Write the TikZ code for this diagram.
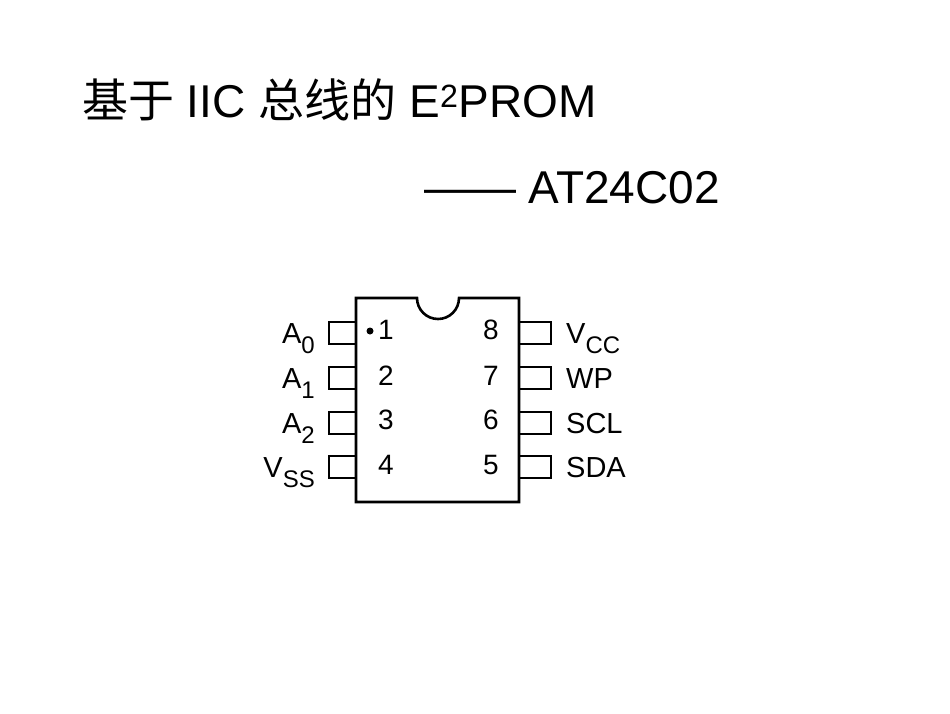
\documentclass[tikz,border=0pt]{standalone}
\usepackage{fontspec}
\setmainfont{Liberation Sans}
\newfontfamily\cjk{Noto Sans CJK SC}
\newcommand{\lowsub}[1]{\raisebox{-0.35em}{\fontsize{24}{24}\selectfont #1}}
\begin{document}
\begin{tikzpicture}[x=1pt,y=-1pt,
  pin/.style={draw,line width=1.5pt},
  num/.style={font=\fontsize{28}{28}\selectfont},
  lbl/.style={font=\fontsize{29}{29}\selectfont}]
\useasboundingbox (0,0) rectangle (950,713);
\node[anchor=base west,inner sep=0,font=\fontsize{46}{46}\selectfont] (title) at (82,117) {{\cjk 基于} IIC {\cjk 总线的} E\textsuperscript{2}PROM};
\node[anchor=base west,inner sep=0,font=\fontsize{46}{46}\selectfont] (sub) at (424,203) {—— AT24C02};
% body
\draw[line width=2.6pt] (356,298) -- (417,298) arc[start angle=180,end angle=0,radius=21] -- (519,298) -- (519,502) -- (356,502) -- cycle;
\foreach \y/\l/\n in {333/{A\lowsub{0}}/1,378/{A\lowsub{1}}/2,423/{A\lowsub{2}}/3,467/{V\lowsub{SS}}/4}{
  \draw[pin] (356,\y-11) -- (329,\y-11) -- (329,\y+11) -- (356,\y+11);
  \node[lbl,anchor=base east,inner sep=0] (L\n) at (315,\y+10) {\l};
}
\foreach \y/\l/\n in {333/{V\lowsub{CC}}/8,378/{WP}/7,423/{SCL}/6,467/{SDA}/5}{
  \draw[pin] (519,\y-11) -- (551,\y-11) -- (551,\y+11) -- (519,\y+11);
  \node[lbl,anchor=base west,inner sep=0] (R\n) at (566,\y+10) {\l};
}
\fill (370,331) circle (3.5);
\foreach \n/\x/\y in {1/386/330,2/386/376,3/386/420,4/386/465,8/491/330,7/491/376,6/491/420,5/491/465}
  \node[num] (n\n) at (\x,\y) {\n};
\end{tikzpicture}
\end{document}
